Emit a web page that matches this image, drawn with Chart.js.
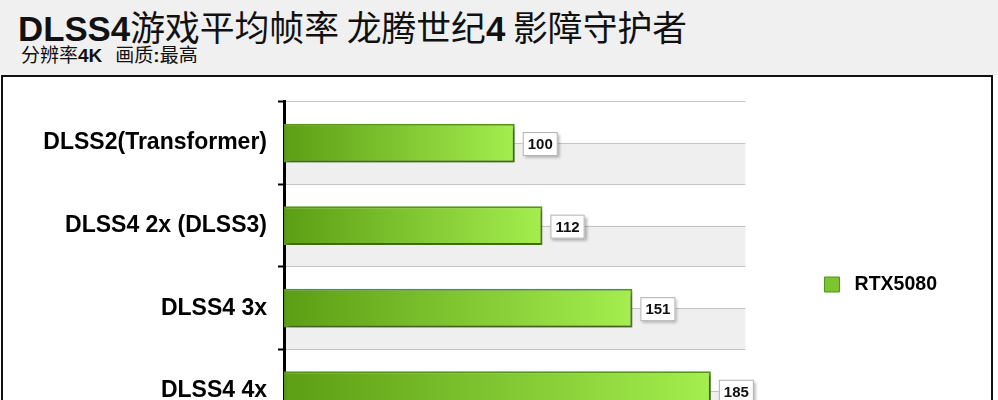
<!DOCTYPE html>
<html>
<head>
<meta charset="utf-8">
<script src="https://cdn.jsdelivr.net/npm/chart.js@4.4.1/dist/chart.umd.min.js"></script>
<style>
  body { margin: 0; width: 998px; height: 400px; overflow: hidden; background: #fff; position: relative;
         font-family: 'Liberation Sans', Arial, sans-serif; color: #111; }
  #head { position: absolute; left: 0; top: 0; width: 998px; height: 75px; background: #f0f0f0; }
  #title { position: absolute; left: 18px; top: 6px; font-size: 34.8px; line-height: 40px; white-space: nowrap; }
  #sub { position: absolute; left: 21px; top: 44px; font-size: 19px; line-height: 20px; white-space: nowrap; }
  .b { font-weight: bold; font-family: 'Liberation Sans', Arial, sans-serif; }
  .zh { font-family: 'Noto Sans CJK SC', sans-serif; font-weight: 400; }
  #frame { position: absolute; left: 1px; top: 75px; width: 988px; height: 440px; border: 2px solid #111; background: #fff; }
  #box { position: absolute; left: 3px; top: 77px; width: 988px; height: 420px; }
</style>
</head>
<body>
<div id="head">
  <div id="title"><span class="b">DLSS4</span><span class="zh">游戏平均帧率 龙腾世纪</span><span class="b">4</span><span class="zh"> 影障守护者</span></div>
  <div id="sub"><span class="zh">分辨率</span><span class="b">4K</span><span class="zh" style="margin-left:13px">画质</span><span class="b">:</span><span class="zh">最高</span></div>
</div>
<div id="frame"></div>
<div id="box"><canvas id="fpsChart"></canvas></div>

<script>
// data
const categories = ['DLSS2(Transformer)', 'DLSS4 2x (DLSS3)', 'DLSS4 3x', 'DLSS4 4x'];
const fpsRTX5080 = [100, 112, 151, 185];
const seriesName = 'RTX5080';
const xMin = 0;
const xMax = 200;

const labelFont = 'Liberation Sans';

// white upper half / grey lower half of every row, plus the line through the middle
const stripes = {
  id: 'stripes',
  beforeDraw(chart) {
    const ctx = chart.ctx;
    const a = chart.chartArea;
    const y = chart.scales.y;
    const half = (y.getPixelForValue(1) - y.getPixelForValue(0)) / 2;
    ctx.save();
    categories.forEach((c, i) => {
      const yc = y.getPixelForValue(i);
      ctx.fillStyle = '#efefef';
      ctx.fillRect(a.left, yc, a.right - a.left, half);
      ctx.strokeStyle = '#c4c4c4';
      ctx.lineWidth = 1;
      ctx.beginPath();
      ctx.moveTo(a.left, Math.round(yc) + 0.5);
      ctx.lineTo(a.right, Math.round(yc) + 0.5);
      ctx.stroke();
    });
    ctx.restore();
  }
};

// soft drop shadow under the bars
const barShadow = {
  id: 'barShadow',
  beforeDatasetsDraw(chart) {
    const ctx = chart.ctx;
    ctx.save();
    ctx.shadowColor = 'rgba(0,0,0,0.35)';
    ctx.shadowOffsetX = 2;
    ctx.shadowOffsetY = 3;
    ctx.shadowBlur = 3;
  },
  afterDatasetsDraw(chart) {
    chart.ctx.restore();
  }
};

// little white value boxes at the end of the bars
const valueBoxes = {
  id: 'valueBoxes',
  afterDatasetsDraw(chart) {
    const ctx = chart.ctx;
    const meta = chart.getDatasetMeta(0);
    ctx.save();
    ctx.font = 'bold 15px "' + labelFont + '", Arial, sans-serif';
    meta.data.forEach((bar, i) => {
      const txt = String(fpsRTX5080[i]);
      const w = ctx.measureText(txt).width + 10;
      const h = 24;
      const x = bar.x + 8;
      const y = bar.y - h / 2 + 1;
      ctx.shadowColor = 'rgba(0,0,0,0.3)';
      ctx.shadowOffsetX = 2;
      ctx.shadowOffsetY = 2;
      ctx.shadowBlur = 3;
      ctx.fillStyle = '#fff';
      ctx.fillRect(x, y, w, h);
      ctx.shadowColor = 'transparent';
      ctx.strokeStyle = '#b0b0b0';
      ctx.lineWidth = 1;
      ctx.strokeRect(x + 0.5, y + 0.5, w - 1, h - 1);
      ctx.fillStyle = '#111';
      ctx.textAlign = 'center';
      ctx.textBaseline = 'middle';
      ctx.fillText(txt, x + w / 2, y + h / 2 + 1);
    });
    ctx.restore();
  }
};

function barGradient(c) {
  const chart = c.chart;
  const x = chart.scales.x;
  if (!x || c.type !== 'data' || !c.parsed) return '#7cc52e';
  const x0 = x.getPixelForValue(xMin);
  const x1 = x.getPixelForValue(c.parsed.x);
  const g = chart.ctx.createLinearGradient(x0, 0, x1, 0);
  g.addColorStop(0, '#5c9e14');
  g.addColorStop(1, '#a4ee4e');
  return g;
}

new Chart('fpsChart', {
  type: 'bar',
  data: {
    labels: categories,
    datasets: [{
      label: seriesName,
      data: fpsRTX5080,
      backgroundColor: barGradient,
      borderColor: '#55931a',
      borderWidth: 2,
      borderSkipped: false,
      categoryPercentage: 1,
      barPercentage: 0.47
    }]
  },
  plugins: [stripes, barShadow, valueBoxes],
  options: {
    indexAxis: 'y',
    responsive: true,
    maintainAspectRatio: false,
    animation: false,
    layout: { padding: { top: 23, left: 0, right: 44, bottom: 28 } },
    scales: {
      x: {
        min: xMin,
        max: xMax,
        afterFit: s => { s.height = 37; },
        grid: { display: false },
        border: { display: false },
        ticks: { display: false }
      },
      y: {
        afterFit: s => { s.width = 281; },
        grid: { offset: true, color: '#c4c4c4', lineWidth: 1, tickColor: '#000', tickWidth: 2, tickLength: 6 },
        border: { display: true, color: '#000', width: 3 },
        ticks: { color: '#000', padding: 11, font: { family: labelFont, size: 23, weight: 'bold' } }
      }
    },
    plugins: {
      tooltip: { enabled: false },
      legend: {
        position: 'right',
        align: 'center',
        labels: {
          padding: 79,
          boxWidth: 15,
          boxHeight: 15,
          color: '#111',
          font: { family: labelFont, size: 19.5, weight: 'bold' },
          generateLabels: () => [{
            text: ' ' + seriesName,
            fillStyle: '#7cc52e',
            strokeStyle: '#4f8f1a',
            lineWidth: 1,
            datasetIndex: 0
          }]
        }
      }
    }
  }
});
</script>
</body>
</html>
